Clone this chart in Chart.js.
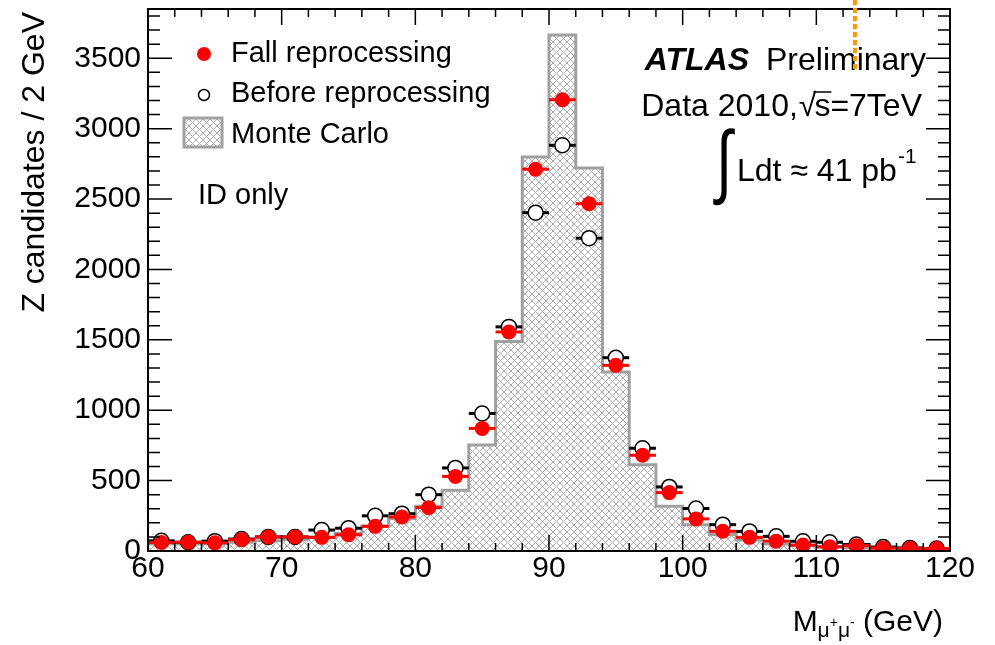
<!DOCTYPE html>
<html><head><meta charset="utf-8">
<script src="https://cdn.jsdelivr.net/npm/chart.js@4"></script>
<style>html,body{margin:0;padding:0;background:#fff;}canvas{display:block;}</style>
</head><body>
<canvas id="c" width="995" height="645"></canvas>
<script>
// ---- data ----
const binEdges = [60,62,64,66,68,70,72,74,76,78,80,82,84,86,88,90,92,94,96,98,100,102,104,106,108,110,112,114,116,118,120];
const binCenters = [61,63,65,67,69,71,73,75,77,79,81,83,85,87,89,91,93,95,97,99,101,103,105,107,109,111,113,115,117,119];
const mcValues = [50,50,52,62,72,82,97,125,177,231,318,431,753,1489,2799,3665,2721,1272,612,318,187,117,78,50,38,28,22,17,14,12];
const fallValues = [60,62,58,80,100,100,97,115,175,242,308,530,871,1556,2712,3205,2467,1319,680,415,228,140,97,70,42,30,38,22,20,18];
const beforeValues = [72,62,70,85,100,100,149,162,250,265,400,590,977,1592,2403,2882,2222,1373,730,455,302,187,139,104,69,62,46,28,22,18];
const xTickLabels = [60,70,80,90,100,110,120];
const yTickLabels = [0,500,1000,1500,2000,2500,3000,3500];

const FONT = "'Liberation Sans', Arial, Helvetica, sans-serif";

// crosshatch pattern
function makePattern() {
  const n = 7;
  const p = document.createElement('canvas');
  p.width = n; p.height = n;
  const g = p.getContext('2d');
  g.fillStyle = '#ffffff'; g.fillRect(0,0,n,n);
  g.strokeStyle = '#acacac'; g.lineWidth = 1;
  g.beginPath();
  g.moveTo(-1,-1); g.lineTo(n+1,n+1);
  g.moveTo(-1,n+1); g.lineTo(n+1,-1);
  g.stroke();
  return document.getElementById('c').getContext('2d').createPattern(p, 'repeat');
}
const hatch = makePattern();

const mcData = [];
mcValues.forEach((v,i) => { mcData.push({x:binEdges[i], y:v}); mcData.push({x:binEdges[i+1], y:v}); });
const fallData = binCenters.map((x,i) => ({x, y:fallValues[i]}));
const beforeData = binCenters.map((x,i) => ({x, y:beforeValues[i]}));

const atlasPlugin = {
  id: 'atlas',
  beforeDatasetDraw(chart, args) {
    const ds = chart.data.datasets[args.index];
    if (!ds.errX) return;
    const xs = chart.scales.x, ys = chart.scales.y, ctx = chart.ctx;
    ctx.save();
    ctx.strokeStyle = ds.errColor; ctx.lineWidth = 3;
    ds.data.forEach(p => {
      const y = ys.getPixelForValue(p.y);
      ctx.beginPath();
      ctx.moveTo(xs.getPixelForValue(p.x - ds.errX), y);
      ctx.lineTo(xs.getPixelForValue(p.x + ds.errX), y);
      ctx.stroke();
    });
    ctx.restore();
  },
  afterDraw(chart) {
    const ctx = chart.ctx, a = chart.chartArea, xs = chart.scales.x, ys = chart.scales.y;
    ctx.save();
    // ticks
    ctx.strokeStyle = '#000'; ctx.lineWidth = 1.5;
    ctx.beginPath();
    for (let v = xs.min; v <= xs.max; v += 2) {
      const x = xs.getPixelForValue(v);
      const L = (v % 10 === 0) ? 16 : 8;
      ctx.moveTo(x, a.bottom); ctx.lineTo(x, a.bottom - L);
      ctx.moveTo(x, a.top); ctx.lineTo(x, a.top + L);
    }
    for (let v = 0; v <= ys.max; v += 100) {
      const y = ys.getPixelForValue(v);
      const L = (v % 500 === 0) ? 24 : 12;
      ctx.moveTo(a.left, y); ctx.lineTo(a.left + L, y);
      ctx.moveTo(a.right, y); ctx.lineTo(a.right - L, y);
    }
    ctx.stroke();
    // frame
    ctx.lineWidth = 2;
    ctx.strokeRect(a.left, a.top, a.right - a.left, a.bottom - a.top);

    // y axis title
    ctx.save();
    ctx.translate(35, 12);
    ctx.rotate(-Math.PI / 2);
    ctx.fillStyle = '#000';
    ctx.font = '32px ' + FONT;
    ctx.textAlign = 'right'; ctx.textBaseline = 'middle';
    ctx.fillText('Z candidates / 2 GeV', 0, 0);
    ctx.restore();

    // legend
    ctx.fillStyle = '#f00';
    ctx.beginPath(); ctx.arc(204, 54, 7, 0, Math.PI*2); ctx.fill();
    ctx.fillStyle = '#fff'; ctx.strokeStyle = '#000'; ctx.lineWidth = 1.5;
    ctx.beginPath(); ctx.arc(204, 95, 5.5, 0, Math.PI*2); ctx.fill(); ctx.stroke();
    ctx.fillStyle = hatch; ctx.fillRect(184, 118, 38, 29);
    ctx.strokeStyle = '#a0a0a0'; ctx.lineWidth = 3; ctx.strokeRect(184, 118, 38, 29);

    ctx.fillStyle = '#000';
    ctx.textBaseline = 'middle'; ctx.textAlign = 'left';
    ctx.font = '29px ' + FONT;
    ctx.fillText('Fall reprocessing', 231, 54);
    ctx.fillText('Before reprocessing', 231, 94);
    ctx.fillText('Monte Carlo', 231, 135);
    ctx.fillText('ID only', 198, 196);

    // ATLAS Preliminary
    ctx.font = '32px ' + FONT;
    ctx.textAlign = 'right';
    ctx.fillText('Preliminary', 926, 61);
    ctx.font = 'italic bold 32px ' + FONT;
    ctx.fillText('ATLAS', 749, 61);

    // Data 2010, sqrt(s)=7TeV  (right aligned at 922)
    ctx.font = '32px ' + FONT;
    ctx.textAlign = 'left';
    const wD = ctx.measureText('Data 2010,').width, wR = ctx.measureText('\u221A').width,
          sw = ctx.measureText('s').width, wE = ctx.measureText('=7TeV').width;
    let x = 922 - (wD + 1 + wR - 2 + sw + wE);
    ctx.fillText('Data 2010,', x, 107); x += wD + 1;
    ctx.fillText('\u221A', x, 107); x += wR - 2;
    ctx.fillText('s', x, 107);
    ctx.lineWidth = 1.5; ctx.strokeStyle = '#000';
    ctx.beginPath(); ctx.moveTo(x - 1, 92); ctx.lineTo(x + sw + 1, 92); ctx.stroke();
    x += sw;
    ctx.fillText('=7TeV', x, 107);

    // integral L dt
    ctx.save();
    ctx.translate(724, 166);
    ctx.scale(1, 1.4);
    ctx.font = '58px ' + FONT;
    ctx.textAlign = 'center';
    ctx.fillText('\u222B', 0, 0);
    ctx.restore();
    ctx.font = '32px ' + FONT;
    ctx.textAlign = 'left';
    ctx.fillText('Ldt \u2248 41 pb', 737, 172);
    const w1 = ctx.measureText('Ldt \u2248 41 pb').width;
    ctx.font = '21px ' + FONT;
    ctx.fillText('-1', 737 + w1 + 1, 157);

    // x axis title  M_{mu+mu-} (GeV)
    const big = '30px ' + FONT, sub = '21px ' + FONT, tiny = '14px ' + FONT;
    const parts = [
      {t:'M', f:big, dy:0},
      {t:'\u03BC', f:sub, dy:8},
      {t:'+', f:tiny, dy:0},
      {t:'\u03BC', f:sub, dy:8},
      {t:'-', f:tiny, dy:0},
      {t:' (GeV)', f:big, dy:0}
    ];
    let tot = 0;
    parts.forEach(p => { ctx.font = p.f; p.w = ctx.measureText(p.t).width; tot += p.w; });
    x = 943 - tot;
    parts.forEach(p => { ctx.font = p.f; ctx.fillText(p.t, x, 623 + p.dy); x += p.w; });

    // orange dotted marker line
    ctx.strokeStyle = '#ff9900'; ctx.lineWidth = 4; ctx.setLineDash([5, 3]);
    ctx.beginPath(); ctx.moveTo(855, 0); ctx.lineTo(855, 72); ctx.stroke();
    ctx.restore();
  }
};

new Chart(document.getElementById('c'), {
  type: 'scatter',
  data: {
    datasets: [
      { type: 'line', label: 'Monte Carlo', data: mcData, showLine: true, borderColor: '#a0a0a0', borderWidth: 3,
        backgroundColor: hatch, fill: 'origin', pointRadius: 0, tension: 0, order: 3 },
      { label: 'Before reprocessing', data: beforeData, pointStyle: 'circle', pointRadius: 7.5,
        pointBackgroundColor: '#fff', pointBorderColor: '#000', pointBorderWidth: 1.5,
        errX: 1, errColor: '#000', order: 2 },
      { label: 'Fall reprocessing', data: fallData, pointStyle: 'circle', pointRadius: 7.5,
        pointBackgroundColor: '#f00', pointBorderColor: '#f00', pointBorderWidth: 0,
        errX: 1, errColor: '#f00', order: 1 }
    ]
  },
  options: {
    responsive: false, animation: false, devicePixelRatio: 1,
    layout: { padding: { top: 0, right: 45, left: 0, bottom: 0 } },
    plugins: { legend: { display: false }, tooltip: { enabled: false } },
    scales: {
      x: {
        type: 'linear', min: 60, max: 120,
        afterBuildTicks: s => { s.ticks = xTickLabels.map(v => ({ value: v })); },
        afterFit: s => { s.height = 94; },
        grid: { display: false, drawTicks: false }, border: { display: false },
        ticks: { font: { family: FONT, size: 30 }, color: '#000', padding: 0, maxRotation: 0, autoSkip: false,
                 callback: v => String(v) }
      },
      y: {
        type: 'linear', min: 0, max: 3850,
        afterBuildTicks: s => { s.ticks = yTickLabels.map(v => ({ value: v })); },
        afterFit: s => { s.width = 148; s.paddingTop = 8; },
        grid: { display: false, drawTicks: false }, border: { display: false },
        ticks: { font: { family: FONT, size: 30, lineHeight: 0.5334 }, color: '#000', padding: 7, autoSkip: false,
                 callback: v => String(v) }
      }
    }
  },
  plugins: [atlasPlugin]
});
</script>
</body></html>
